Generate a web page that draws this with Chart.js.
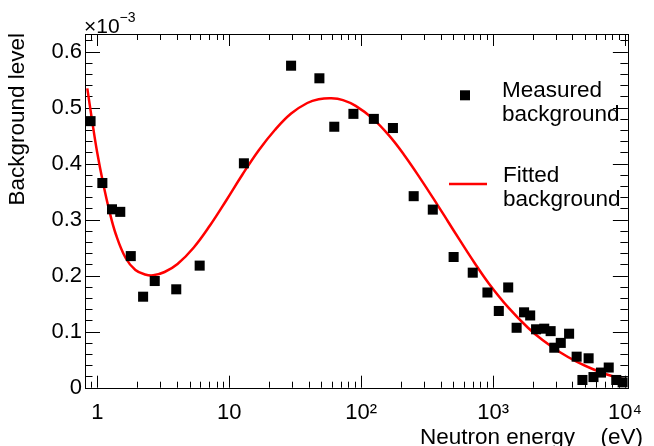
<!DOCTYPE html>
<html>
<head>
<meta charset="utf-8">
<script src="https://cdn.jsdelivr.net/npm/chart.js@4.4.1/dist/chart.umd.min.js"></script>
<style>
  html, body { margin: 0; padding: 0; background: #fff; }
  #wrap { width: 654px; height: 446px; }
</style>
</head>
<body>
<div id="wrap"><canvas id="bgChart" width="654" height="446"></canvas></div>
<script>
// values are in units of 1e-3 (axis carries the x10^-3 multiplier)
const measuredEnergy = [0.887, 1.09, 1.29, 1.49, 1.79, 2.22, 2.72, 3.96, 5.96, 12.9,
    29.4, 48.2, 62.5, 87.3, 124.7, 174, 250, 349, 502, 701,
    906, 1105, 1302, 1508, 1718, 1911, 2118, 2442, 2731, 2910,
    3260, 3770, 4300, 4757, 5300, 5770, 6575, 7530, 8590, 9600];
const measuredLevel = [0.476, 0.3655, 0.3186, 0.314, 0.235, 0.1625, 0.1905, 0.1757, 0.218, 0.4007,
    0.575, 0.5525, 0.466, 0.489, 0.480, 0.4637, 0.342, 0.318, 0.2334, 0.2054,
    0.170, 0.137, 0.179, 0.107, 0.1346, 0.129, 0.1043, 0.1054, 0.101, 0.0714,
    0.080, 0.0964, 0.0554, 0.0138, 0.0525, 0.019, 0.027, 0.036, 0.0138, 0.0096];

// points
const fitEnergy = [0.838, 0.912, 0.993, 1.100, 1.232, 1.381, 1.637, 1.941, 2.300, 2.648,
    3.230, 4.050, 5.379, 7.132, 9.471, 12.58, 16.68, 22.15, 29.42, 39.01,
    47.60, 59.35, 72.78, 90.78, 121.2, 161.8, 212.3, 283.4, 378.4, 456.1,
    559.4, 721.8, 931.1, 1308, 1838, 2371, 3219, 4298, 5738, 7404, 9555];
const fitLevel = [0.5346, 0.4763, 0.4218, 0.3673, 0.3155, 0.2736, 0.2316, 0.2102, 0.2021, 0.2007,
    0.2066, 0.2209, 0.2504, 0.2896, 0.3343, 0.3807, 0.4236, 0.4602, 0.4896, 0.5084,
    0.5150, 0.5168, 0.5136, 0.5032, 0.4813, 0.4509, 0.4152, 0.3721, 0.3266, 0.2964,
    0.2634, 0.2232, 0.1857, 0.1429, 0.1071, 0.0852, 0.0634, 0.0466, 0.0329, 0.0232, 0.0157];

const xTickValues = [1, 10, 100, 1000, 10000];
const xTickLabels = ['1', '10', '10²', '10³', '10⁴'];
const yTickValues = [0, 0.1, 0.2, 0.3, 0.4, 0.5, 0.6];
const yTickLabels = ['0', '0.1', '0.2', '0.3', '0.4', '0.5', '0.6'];

const FONT = "'Liberation Sans', Arial, Helvetica, sans-serif";
Chart.defaults.font.family = FONT;
Chart.defaults.color = '#000';

// ROOT-like frame: box plus inward ticks on all four sides
const rootFrame = {
    id: 'rootFrame',
    beforeDatasetsDraw(chart) {
        const ctx = chart.ctx;
        const a = chart.chartArea;
        const xs = chart.scales.x;
        const ys = chart.scales.y;
        ctx.save();
        ctx.strokeStyle = '#000';
        ctx.lineWidth = 1;
        ctx.beginPath();
        [0.1, 1, 10, 100, 1000, 10000].forEach(d => {
            for (let m = 1; m <= 9; m++) {
                const v = m * d;
                if (v < xs.min || v > xs.max) continue;
                const px = Math.round(xs.getPixelForValue(v)) + 0.5;
                const len = m === 1 ? 12 : 6;
                ctx.moveTo(px, a.bottom); ctx.lineTo(px, a.bottom - len);
                ctx.moveTo(px, a.top); ctx.lineTo(px, a.top + len);
            }
        });
        for (let k = 0; k * 0.02 <= ys.max + 1e-9; k++) {
            const py = Math.round(ys.getPixelForValue(k * 0.02)) + 0.5;
            const len = k % 5 === 0 ? 15 : 7.5;
            ctx.moveTo(a.left, py); ctx.lineTo(a.left + len, py);
            ctx.moveTo(a.right, py); ctx.lineTo(a.right - len, py);
        }
        ctx.stroke();
        ctx.strokeRect(Math.round(a.left) + 0.5, Math.round(a.top) + 0.5,
            Math.round(a.right - a.left), Math.round(a.bottom - a.top));
        ctx.restore();
    },
    afterDraw(chart) {
        const ctx = chart.ctx;
        ctx.save();
        ctx.fillStyle = '#000';

        // axis titles
        ctx.font = '22.5px ' + FONT;
        ctx.textBaseline = 'alphabetic';
        ctx.textAlign = 'right';
        ctx.fillText('Neutron energy', 575, 444);
        ctx.fillText('(eV)', 643, 444);

        ctx.save();
        ctx.translate(18, 33);
        ctx.rotate(-Math.PI / 2);
        ctx.textAlign = 'right';
        ctx.textBaseline = 'middle';
        ctx.fillText('Background level', 0, 0);
        ctx.restore();

        // multiplier
        ctx.textAlign = 'left';
        ctx.font = '21px ' + FONT;
        ctx.fillText('×10', 84, 33);
        const w = ctx.measureText('×10').width;
        ctx.font = '14px ' + FONT;
        ctx.fillText('−3', 84 + w, 22);

        // legend
        ctx.font = '22.5px ' + FONT;
        ctx.fillText('Measured', 502, 96.5);
        ctx.fillText('background', 502, 121);
        ctx.fillText('Fitted', 503, 181.7);
        ctx.fillText('background', 503, 206);
        ctx.fillRect(460, 90.3, 10, 10);
        ctx.strokeStyle = '#ff0000';
        ctx.lineWidth = 2.5;
        ctx.beginPath();
        ctx.moveTo(449, 184);
        ctx.lineTo(487, 184);
        ctx.stroke();
        ctx.restore();
    }
};

const ctx = document.getElementById('bgChart').getContext('2d');
const bgChart = new Chart(ctx, {
    type: 'scatter',
    data: {
        datasets: [
            {
                label: 'Fitted background',
                type: 'line',
                data: fitEnergy.map((e, i) => ({ x: e, y: fitLevel[i] })),
                borderColor: '#ff0000',
                borderWidth: 2.5,
                pointRadius: 0,
                fill: false,
                tension: 0.4,
                order: 2
            },
            {
                label: 'Measured background',
                data: measuredEnergy.map((e, i) => ({ x: e, y: measuredLevel[i] })),
                pointStyle: 'rect',
                pointRadius: 7.1,
                pointBackgroundColor: '#000',
                pointBorderWidth: 0,
                clip: false,
                order: 1
            }
        ]
    },
    options: {
        responsive: false,
        animation: false,
        layout: { padding: { top: 34, right: 11.3, left: 0, bottom: 0 } },
        plugins: {
            legend: { display: false },
            tooltip: { enabled: false }
        },
        scales: {
            x: {
                type: 'logarithmic',
                min: 0.805,
                max: 10520,
                afterBuildTicks: s => { s.ticks = xTickValues.map(v => ({ value: v })); },
                afterFit: s => { s.height = 58.3; },
                grid: { display: false, drawTicks: false },
                border: { display: false },
                ticks: {
                    autoSkip: false,
                    maxRotation: 0,
                    padding: 12,
                    font: { size: 22 },
                    callback: v => xTickLabels[xTickValues.indexOf(v)]
                }
            },
            y: {
                type: 'linear',
                min: 0,
                max: 0.6316,
                afterBuildTicks: s => { s.ticks = yTickValues.map(v => ({ value: v })); },
                afterFit: s => { s.width = 85; },
                grid: { display: false, drawTicks: false },
                border: { display: false },
                ticks: {
                    padding: 3,
                    font: { size: 22 },
                    callback: v => yTickLabels[yTickValues.indexOf(v)]
                }
            }
        }
    },
    plugins: [rootFrame]
});
</script>
</body>
</html>
